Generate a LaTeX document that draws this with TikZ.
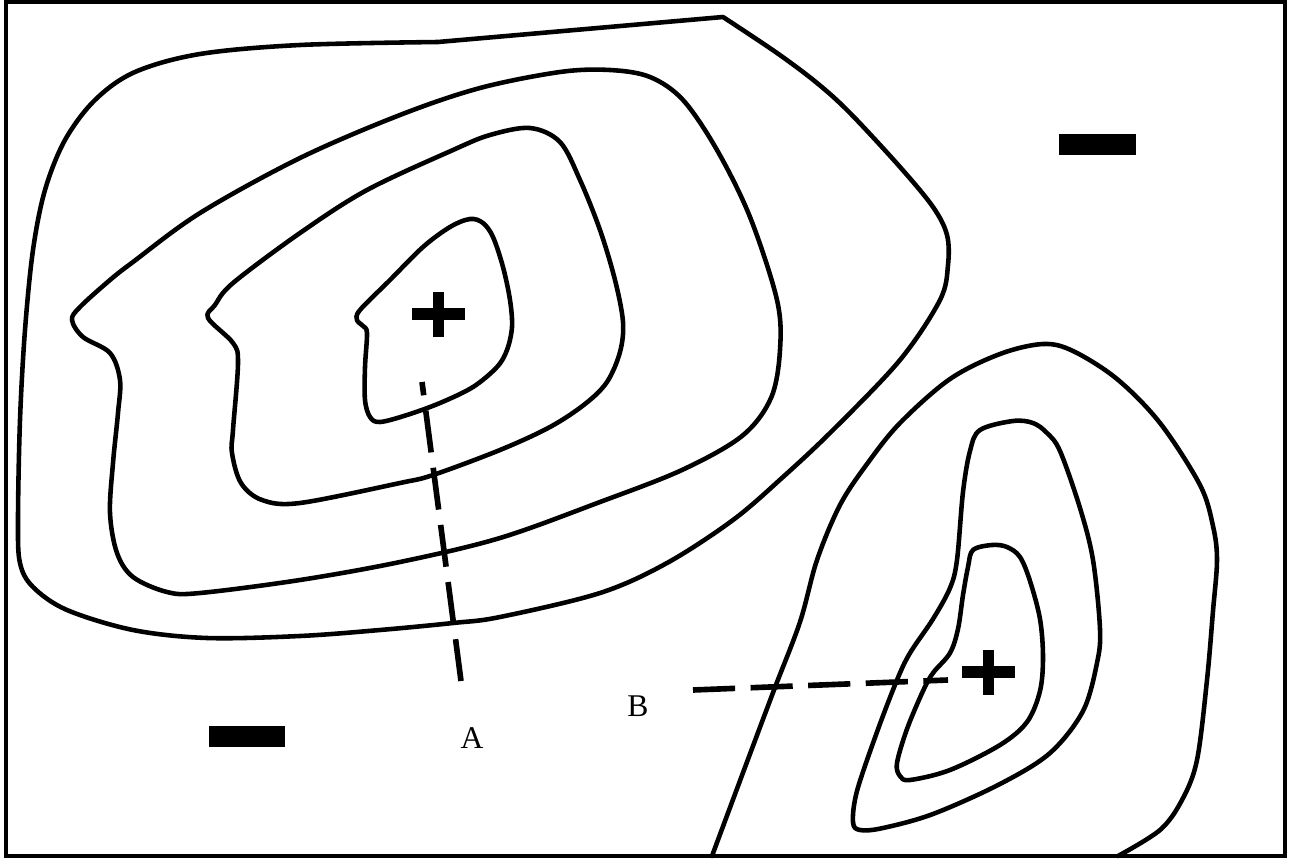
\documentclass[tikz,border=0pt]{standalone}
\usepackage{fontspec}
\setmainfont{Liberation Serif}
\begin{document}
\begin{tikzpicture}[x=0.02cm,y=-0.02cm,
  contour/.style={line width=2.6pt, line join=round, line cap=round},
  frame/.style={line width=2.8pt},
  profile/.style={line width=3.2pt, dash pattern=on 24pt off 8.8pt},
  signbar/.style={fill=black, draw=none},
  lbl/.style={font=\fontsize{18}{20}\selectfont, inner sep=0pt}]
\useasboundingbox (0,0) rectangle (1296,859);
\draw[frame] (6,2) rectangle (1285,856);

% outer contour (left system)
\draw[contour] (438,42) -- plot[smooth, tension=0.55] coordinates {
 (723,17) (777,53) (817,83) (850,113) (900,167) (933,207) (947,235) (948,265)
 (940,300) (900,360) (833,430) (783,477) (733,520) (667,563) (600,593)
 (500,617) (453,623) (380,630) (300,636) (207,638) (133,630) (67,610)
 (33,587) (20,563) (18,520) (20,420) (25,330) (33,250) (45,190) (65,140)
 (95,100) (135,72) (200,54) (300,45) (438,42)};

% second contour
\draw[contour] plot[smooth cycle, tension=0.55] coordinates {
 (72,320) (80,307) (110,280) (133,262) (200,213) (300,158) (400,115)
 (480,88) (560,72) (610,70) (650,77) (683,100) (717,150) (750,217)
 (777,300) (780,350) (771,398) (742,436) (682,470) (600,502)
 (500,538) (400,562) (300,580) (200,593) (167,592)
 (133,577) (117,553) (110,513) (113,463) (118,413) (120,380) (110,353)
 (83,337)};

% third contour
\draw[contour] plot[smooth cycle, tension=0.55] coordinates {
 (208,318) (215,305) (233,283) (300,233) (367,190) (453,150) (490,135)
 (530,128) (560,142) (580,180) (600,230) (615,280) (623,322) (620,352)
 (607,382) (585,404) (550,427) (500,450) (433,475) (400,483) (300,503)
 (262,500) (241,483) (232,453) (233,430) (238,363) (233,343)};

% inner contour
\draw[contour] plot[smooth cycle, tension=0.55] coordinates {
 (357,320) (360,310) (390,280) (423,247) (450,227) (470,219) (483,223)
 (493,237) (503,267) (510,300) (512,327) (507,350) (497,367) (473,387)
 (440,403) (407,415) (380,422) (370,417) (365,400) (365,367) (367,333)
 (363,326)};

% right system, outer (open)
\draw[contour] plot[smooth, tension=0.55] coordinates {
 (712,856) (744,770) (774,690) (800,622) (817,560) (840,505) (867,464)
 (900,423) (950,379) (1000,354) (1043,344) (1073,351) (1117,379)
 (1160,423) (1200,485) (1213,526) (1217,560) (1213,611) (1207,680)
 (1197,760) (1182,800) (1160,830) (1118,856)};

% right system, middle
\draw[contour] plot[smooth cycle, tension=0.55] coordinates {
 (1013,421) (980,430) (970,451) (963,492) (957,560) (950,588) (933,619)
 (910,653) (897,680) (877,732) (857,791) (853,822) (860,830) (883,828)
 (933,814) (1000,784) (1050,753) (1083,711) (1097,663) (1100,629)
 (1093,560) (1080,508) (1060,451) (1047,433) (1033,423)};

% right system, inner
\draw[contour] plot[smooth cycle, tension=0.55] coordinates {
 (992,545) (973,550) (968,567) (963,595) (958,629) (950,653) (933,673)
 (923,691) (907,729) (897,763) (900,776) (910,780) (950,770) (1000,745)
 (1027,722) (1040,691) (1043,657) (1040,619) (1030,581) (1020,557)
 (1007,547)};

% plus signs
\fill[signbar] (412,308) rectangle (465,320);
\fill[signbar] (433,292) rectangle (444,337);
\fill[signbar] (962,666) rectangle (1015,678);
\fill[signbar] (983,650) rectangle (994,695);

% minus signs
\fill[signbar] (209,726) rectangle (285,747);
\fill[signbar] (1059,134) rectangle (1136,155);

% profile lines
\coordinate (a0) at (461,681);
\coordinate (a1) at (422,382);
\coordinate (b0) at (693,690);
\coordinate (b1) at (948,680);
\draw[profile] (a0) -- (a1);
\draw[profile] (b0) -- (b1);

\node[lbl] (labA) at (472,738) {A};
\node[lbl] (labB) at (638,706) {B};
\end{tikzpicture}
\end{document}
